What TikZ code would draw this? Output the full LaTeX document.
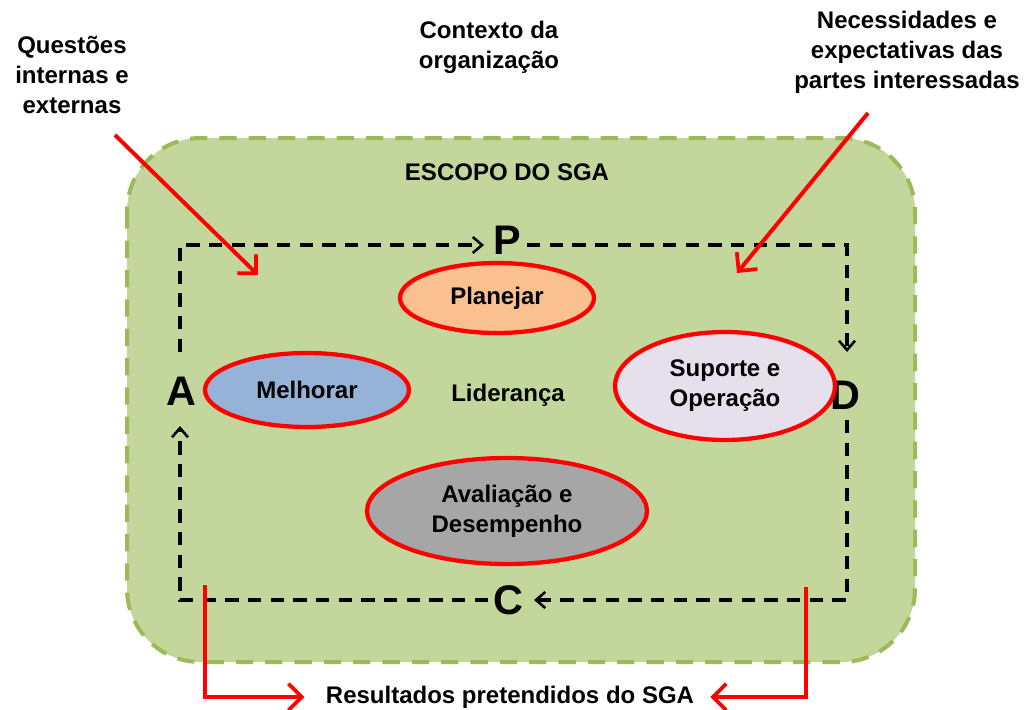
\documentclass[tikz,border=0pt]{standalone}
\usepackage{fontspec}
\setmainfont{Liberation Sans}
\usetikzlibrary{arrows.meta,shapes.geometric}
\definecolor{scopefill}{HTML}{C3D69B}
\definecolor{scopeline}{HTML}{9BBB59}
\definecolor{redline}{HTML}{FF0000}
\definecolor{planfill}{HTML}{FAC090}
\definecolor{melfill}{HTML}{95B3D7}
\definecolor{supfill}{HTML}{E6E0EC}
\definecolor{avafill}{HTML}{A6A6A6}
\tikzset{
  lbl/.style={font=\fontsize{18}{22.5}\selectfont\bfseries, align=center, inner sep=0pt},
  pdca/.style={font=\fontsize{31}{31}\selectfont\bfseries, inner sep=0pt},
  phase/.style={ellipse, draw=redline, line width=3.2pt, font=\fontsize{18}{22.5}\selectfont\bfseries, align=center, inner sep=0pt},
  loopline/.style={black, line width=2.3pt, dash pattern=on 10pt off 7pt},
  looparrow/.style={loopline, -{Straight Barb[length=7pt,width=12pt,line width=1.9pt]}},
  redarrow/.style={redline, line width=3pt, -{Straight Barb[length=10pt,width=20pt,line width=2.8pt]}},
}
\begin{document}
\begin{tikzpicture}[x=0.75pt,y=-0.75pt]
\useasboundingbox (0,0) rectangle (1025,710);
% scope area
\draw[fill=scopefill, draw=scopeline, line width=3pt, dash pattern=on 13pt off 9pt, rounded corners=55pt] (127,138) rectangle (915,662);
\node[lbl] (escopo) at (507,172) {ESCOPO DO SGA};
\node[lbl] (contexto) at (489,47) {Contexto da\\organização};
\node[lbl] (questoes) at (72,75) {Questões\\internas e\\externas};
\node[lbl] (necess) at (907,52) {Necessidades e\\expectativas das\\partes interessadas};
% PDCA letters
\node[pdca] (P) at (507,240) {P};
\node[pdca] (D) at (845,395) {D};
\node[pdca] (C) at (508,600) {C};
\node[pdca] (A) at (181,391) {A};
% corners and loop end points
\coordinate (tl) at (180,245);
\coordinate (tr) at (847,245);
\coordinate (br) at (847,600);
\coordinate (bl) at (180,600);
\coordinate (aout) at (180,352);
\coordinate (pin) at (484,245);
\coordinate (pout) at (527,245);
\coordinate (din) at (847,352);
\coordinate (dout) at (847,420);
\coordinate (cin) at (534,600);
\coordinate (cout) at (488,600);
\coordinate (ain) at (180,426);
% dashed PDCA loop
\draw[looparrow] (aout) -- (tl) -- (pin);
\draw[looparrow] (pout) -- (tr) -- (din);
\draw[looparrow] (dout) -- (br) -- (cin);
\draw[looparrow] (cout) -- (bl) -- (ain);
% ellipses
\node[phase, fill=planfill, minimum width=145.5pt, minimum height=52.5pt] (plan) at (497,298) {Planejar};
\node[phase, fill=melfill, minimum width=153pt, minimum height=55.5pt] (mel) at (307,390) {Melhorar};
\node[phase, fill=supfill, minimum width=165pt, minimum height=81pt] (sup) at (725,386) {Suporte e\\Operação};
\node[phase, fill=avafill, minimum width=210pt, minimum height=79.5pt] (ava) at (507,511) {Avaliação e\\Desempenho};
\node[lbl] (lid) at (508,395) {Liderança};
% input arrows
\coordinate (qs) at (115,135);
\coordinate (qe) at (258,275);
\coordinate (ns) at (868,113);
\coordinate (ne) at (737,273);
\draw[redarrow] (qs) -- (qe);
\draw[redarrow] (ns) -- (ne);
% results
\node[lbl] (res) at (510,697) {Resultados pretendidos do SGA};
\coordinate (r1) at (205,585);
\coordinate (r2) at (806,587);
\draw[redarrow, shorten >=16pt] (r1) |- (res.west);
\draw[redarrow, shorten >=12pt] (r2) |- (res.east);
\end{tikzpicture}
\end{document}
